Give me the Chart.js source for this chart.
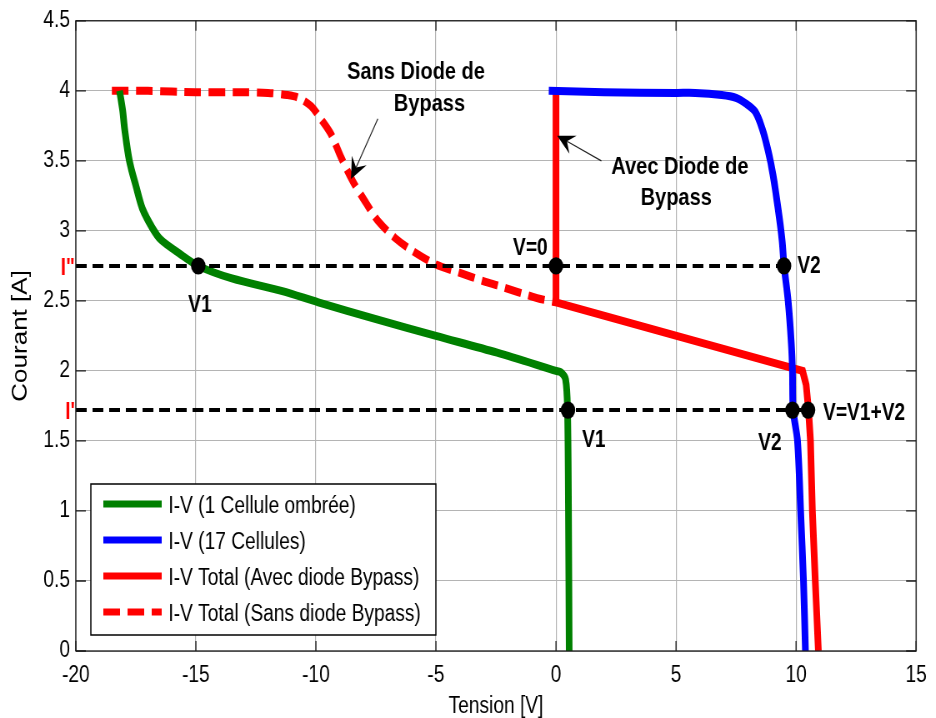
<!DOCTYPE html>
<html>
<head>
<meta charset="utf-8">
<script src="https://cdn.jsdelivr.net/npm/chart.js@4.4.0/dist/chart.umd.min.js"></script>
<style>
  html, body { margin: 0; padding: 0; background: #fff; overflow: hidden; }
  /* the canvas is drawn wide and squeezed horizontally, giving the narrow lettering */
  #wrap { width: 1123px; height: 718px; transform: scaleX(0.8334); transform-origin: 0 0; }
</style>
</head>
<body>
<div id="wrap"><canvas id="ivChart" width="1123" height="718"></canvas></div>
<script>
// courbe I-V de la cellule ombrée
const greenV = [-18.18, -18.05, -17.97, -17.77, -17.48, -17.23, -16.81, -16.45, -15.7, -14.9, -13.5, -11.4, -9.9, -7.5, -5, -2.45, 0, 0.2, 0.4, 0.48, 0.52, 0.55];
const greenI = [4.0, 3.86, 3.73, 3.5, 3.31, 3.16, 3.02, 2.935, 2.84, 2.75, 2.66, 2.57, 2.49, 2.37, 2.25, 2.13, 2.0, 1.99, 1.94, 1.72, 1.0, 0];

// 17 cellules en série
const blueV = [-0.3, 2, 5, 5.8, 6.9, 7.5, 7.9, 8.3, 8.59, 8.84, 9.04, 9.25, 9.42, 9.5, 9.67, 9.8, 9.85, 9.88, 10.06, 10.19, 10.31, 10.39];
const blueI = [4.0, 3.99, 3.985, 3.985, 3.97, 3.95, 3.91, 3.85, 3.73, 3.57, 3.4, 3.16, 2.93, 2.75, 2.5, 2.2, 2.0, 1.72, 1.5, 1.0, 0.5, 0];

// total avec diode de bypass
const redV = [0, 0, 10.27, 10.42, 10.52, 10.6, 10.68, 10.8, 10.93];
const redI = [4.0, 2.49, 2.0, 1.9, 1.72, 1.5, 1.0, 0.5, 0];

// total sans diode de bypass
const redDashV = [-18.5, -17, -15, -13, -12, -11.2, -10.72, -10.2, -9.8, -9.37, -8.94, -8.45, -7.95, -7.41, -6.71, -6, -5, -4, -3, -2.44, -0.79, 0];
const redDashI = [4.0, 4.0, 3.99, 3.99, 3.985, 3.97, 3.95, 3.89, 3.8, 3.69, 3.52, 3.35, 3.21, 3.07, 2.95, 2.86, 2.76, 2.70, 2.64, 2.61, 2.52, 2.49];

// niveaux de courant I'' et I'
const iLevels = [2.75, 1.72];
const iLevelNames = ['I"', "I'"];
const iLevelEndV = [9.5, 10.5];

// points de fonctionnement
const markerV = [-14.9, 0, 9.5, 0.5, 9.85, 10.5];
const markerI = [2.75, 2.75, 2.75, 1.72, 1.72, 1.72];
const markerNames = ['V1', 'V=0', 'V2', 'V1', 'V2', 'V=V1+V2'];

const xTicks = [-20, -15, -10, -5, 0, 5, 10, 15];
const yTicks = [0, 0.5, 1, 1.5, 2, 2.5, 3, 3.5, 4, 4.5];

const legendNames = ['I-V (1 Cellule ombrée)', 'I-V (17 Cellules)', 'I-V Total (Avec diode Bypass)', 'I-V Total (Sans diode Bypass)'];

const FONT = "'Liberation Sans', Arial, sans-serif";
const pts = (xs, ys) => xs.map((x, i) => ({ x: x, y: ys[i] }));

// placement of the text beside each operating point (pixels)
const markerText = [
  { dx: 2, dy: 40, align: 'center' },
  { dx: -10, dy: -17, align: 'right' },
  { dx: 16, dy: 1, align: 'left' },
  { dx: 17, dy: 31, align: 'left' },
  { dx: -13, dy: 34, align: 'right' },
  { dx: 18, dy: 4, align: 'left' }
];

// annotations: text lines in data units, arrow from -> to
const notes = [
  { lines: [['Sans Diode de', -5.83, 4.13], ['Bypass', -5.27, 3.90]], from: [-7.42, 3.80], to: [-8.54, 3.37] },
  { lines: [['Avec Diode de', 5.16, 3.45], ['Bypass', 5.01, 3.235]], from: [1.89, 3.50], to: [0.05, 3.68] }
];

const lineSet = (label, xs, ys, color, order, tension, dash) => ({
  label: label,
  data: pts(xs, ys),
  showLine: true,
  borderColor: color,
  backgroundColor: color,
  borderWidth: 8,
  borderDash: dash || [],
  pointRadius: 0,
  tension: tension,
  order: order
});

const datasets = [
  lineSet(legendNames[0], greenV, greenI, '#008000', 5, 0.3),
  lineSet(legendNames[1], blueV, blueI, '#0000ff', 3, 0.3),
  lineSet(legendNames[2], redV, redI, '#ff0000', 4, 0),
  lineSet(legendNames[3], redDashV, redDashI, '#ff0000', 6, 0.3, [20, 9])
];

iLevels.forEach((lvl, k) => {
  datasets.push({
    label: iLevelNames[k],
    data: pts([-20, iLevelEndV[k]], [lvl, lvl]),
    showLine: true,
    borderColor: '#000',
    borderWidth: 4,
    borderDash: [13, 7],
    pointRadius: 0,
    order: 2
  });
});

datasets.push({
  label: 'points',
  data: pts(markerV, markerI),
  showLine: false,
  pointStyle: 'circle',
  pointRadius: 8.7,
  pointBackgroundColor: '#000',
  pointBorderWidth: 0,
  order: 0
});

function arrow(ctx, x0, y0, x1, y1) {
  const ang = Math.atan2(y1 - y0, x1 - x0);
  const L = 21, W = 10, back = 13;
  ctx.beginPath();
  ctx.moveTo(x0, y0);
  ctx.lineTo(x1 - Math.cos(ang) * back, y1 - Math.sin(ang) * back);
  ctx.strokeStyle = '#222';
  ctx.lineWidth = 1.2;
  ctx.stroke();
  const bx = x1 - Math.cos(ang) * L, by = y1 - Math.sin(ang) * L;
  const nx = x1 - Math.cos(ang) * back, ny = y1 - Math.sin(ang) * back;
  ctx.beginPath();
  ctx.moveTo(x1, y1);
  ctx.lineTo(bx + Math.sin(ang) * W, by - Math.cos(ang) * W);
  ctx.lineTo(nx, ny);
  ctx.lineTo(bx - Math.sin(ang) * W, by + Math.cos(ang) * W);
  ctx.closePath();
  ctx.fillStyle = '#000';
  ctx.fill();
}

const decorations = {
  id: 'decorations',
  afterDraw(chart) {
    const { ctx, chartArea: a } = chart;
    const x = chart.scales.x, y = chart.scales.y;
    ctx.save();

    // axes box and inward ticks
    ctx.strokeStyle = '#1a1a1a';
    ctx.lineWidth = 1.3;
    ctx.strokeRect(a.left, a.top, a.right - a.left, a.bottom - a.top);
    ctx.beginPath();
    xTicks.forEach(v => {
      const px = x.getPixelForValue(v);
      ctx.moveTo(px, a.bottom); ctx.lineTo(px, a.bottom - 10);
      ctx.moveTo(px, a.top); ctx.lineTo(px, a.top + 10);
    });
    yTicks.forEach(v => {
      const py = y.getPixelForValue(v);
      ctx.moveTo(a.left, py); ctx.lineTo(a.left + 12, py);
      ctx.moveTo(a.right, py); ctx.lineTo(a.right - 12, py);
    });
    ctx.stroke();

    // I'' / I' on the left of the axis
    ctx.font = 'bold 23px ' + FONT;
    ctx.fillStyle = '#ff0000';
    ctx.textAlign = 'right';
    ctx.textBaseline = 'middle';
    iLevels.forEach((lvl, k) => {
      ctx.fillText(iLevelNames[k], a.left - 1, y.getPixelForValue(lvl) + 3);
    });

    // operating point labels
    ctx.fillStyle = '#000';
    markerNames.forEach((name, k) => {
      const t = markerText[k];
      ctx.textAlign = t.align;
      ctx.fillText(name, x.getPixelForValue(markerV[k]) + t.dx, y.getPixelForValue(markerI[k]) + t.dy);
    });

    // annotations with arrows
    ctx.textAlign = 'center';
    ctx.font = 'bold 24px ' + FONT;
    notes.forEach(n => {
      n.lines.forEach(l => ctx.fillText(l[0], x.getPixelForValue(l[1]), y.getPixelForValue(l[2])));
      arrow(ctx, x.getPixelForValue(n.from[0]), y.getPixelForValue(n.from[1]),
                 x.getPixelForValue(n.to[0]), y.getPixelForValue(n.to[1]));
    });

    // legend box
    const lx = 109, ly = 484, lw = 414, lh = 151;
    ctx.fillStyle = '#fff';
    ctx.fillRect(lx, ly, lw, lh);
    ctx.strokeStyle = '#000';
    ctx.lineWidth = 1.5;
    ctx.strokeRect(lx, ly, lw, lh);
    const rows = [504, 540, 576, 612];
    ctx.font = '23px ' + FONT;
    ctx.textAlign = 'left';
    legendNames.forEach((name, k) => {
      const ds = chart.data.datasets[k];
      ctx.beginPath();
      ctx.setLineDash(ds.borderDash);
      ctx.strokeStyle = ds.borderColor;
      ctx.lineWidth = 7;
      ctx.moveTo(124, rows[k]);
      ctx.lineTo(194, rows[k]);
      ctx.stroke();
      ctx.setLineDash([]);
      ctx.fillStyle = '#000';
      ctx.fillText(name, 202, rows[k] + 3);
    });
    ctx.restore();
  }
};

const config = {
  type: 'scatter',
  data: { datasets: datasets },
  options: {
    responsive: false,
    devicePixelRatio: 1,
    animation: false,
    layout: { padding: { top: 19, right: 17, left: 0, bottom: 0 } },
    plugins: { legend: { display: false }, tooltip: { enabled: false } },
    scales: {
      x: {
        type: 'linear',
        min: -20,
        max: 15,
        afterBuildTicks: s => { s.ticks = xTicks.map(v => ({ value: v })); },
        afterFit: s => { s.height = 67; },
        grid: { color: '#b4b4b4', lineWidth: 1.2, drawTicks: false },
        border: { display: false },
        ticks: { color: '#000', font: { family: FONT, size: 23 }, padding: 11, maxRotation: 0, autoSkip: false, callback: v => String(v) },
        title: { display: true, text: 'Tension [V]', color: '#000', font: { family: FONT, size: 23, lineHeight: 1 }, padding: { top: 0, bottom: 0 } }
      },
      y: {
        type: 'linear',
        min: 0,
        max: 4.5,
        afterBuildTicks: s => { s.ticks = yTicks.map(v => ({ value: v })); },
        afterFit: s => { s.width = 91; },
        grid: { color: '#b4b4b4', lineWidth: 1, drawTicks: false },
        border: { display: false },
        ticks: { color: '#000', font: { family: FONT, size: 23 }, padding: 7, autoSkip: false, callback: v => String(v) },
        title: { display: true, text: 'Courant [A]', color: '#000', font: { family: FONT, size: 26, lineHeight: 1 }, padding: { top: 12, bottom: 0 } }
      }
    }
  },
  plugins: [decorations]
};

const ivChart = new Chart(document.getElementById('ivChart'), config);
</script>
</body>
</html>
